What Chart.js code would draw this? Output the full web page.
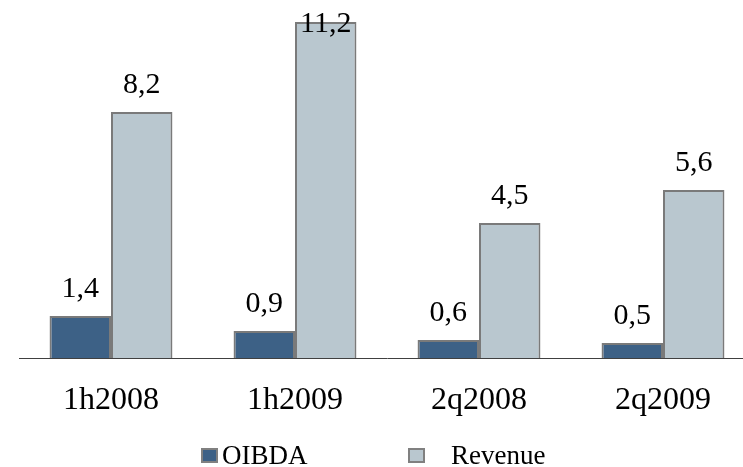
<!DOCTYPE html>
<html>
<head>
<meta charset="utf-8">
<script src="https://cdn.jsdelivr.net/npm/chart.js@4/dist/chart.umd.min.js"></script>
<style>
  html, body { margin: 0; background: #fff; overflow: hidden; }
  #wrap { position: relative; width: 743px; height: 467px; overflow: hidden; }
  #grafico { display: block; margin-top: -2px; }
  #legend { position: absolute; left: 0; top: 0; width: 743px; height: 467px; pointer-events: none;
            font-family: "Liberation Serif", "Times New Roman", serif; font-size: 27px; line-height: 27px; color: #000; }
  .box { position: absolute; top: 448px; width: 17px; height: 15px; box-sizing: border-box; border: 2px solid #808080; }
  .txt { position: absolute; top: 442px; white-space: pre; }
</style>
</head>
<body>
<div id="wrap">
  <canvas id="grafico" width="760" height="469"></canvas>
  <div id="legend"></div>
</div>
<script>
const periods = ['1h2008', '1h2009', '2q2008', '2q2009'];
const oibda = [1.4, 0.9, 0.6, 0.5];
const revenue = [8.2, 11.2, 4.5, 5.6];

const serif = '"Liberation Serif", "Times New Roman", serif';

// value labels above each bar, kept inside the plot at the top
const valueLabels = {
  id: 'valueLabels',
  afterDatasetsDraw(chart) {
    const ctx = chart.ctx;
    ctx.save();
    ctx.font = '30px ' + serif;
    ctx.fillStyle = '#000';
    ctx.textAlign = 'center';
    ctx.textBaseline = 'alphabetic';
    chart.data.datasets.forEach((ds, i) => {
      chart.getDatasetMeta(i).data.forEach((bar, j) => {
        const txt = ds.data[j].toFixed(1).replace('.', ',');
        const y = Math.max(bar.y - 19, 34);
        ctx.fillText(txt, bar.x, y);
      });
    });
    ctx.restore();
  }
};

const chart = new Chart(document.getElementById('grafico').getContext('2d'), {
  type: 'bar',
  data: {
    labels: periods,
    datasets: [{
      label: 'OIBDA',
      data: oibda,
      backgroundColor: '#3d6186',
      borderColor: '#7a7a7a',
      borderWidth: 2
    }, {
      label: 'Revenue',
      data: revenue,
      backgroundColor: '#b9c7cf',
      borderColor: '#7a7a7a',
      borderWidth: 2
    }]
  },
  options: {
    responsive: false,
    animation: false,
    layout: { padding: { top: 0, left: 19, right: 5, bottom: 0 } },
    datasets: {
      bar: { categoryPercentage: 0.668, barPercentage: 1 }
    },
    scales: {
      x: {
        grid: { display: false, drawTicks: false },
        border: { display: true, color: '#404040', width: 1 },
        ticks: { color: '#000', padding: 23, font: { family: serif, size: 32 } },
        afterFit: scale => { scale.height = 109; }
      },
      y: {
        display: false,
        min: 0,
        max: 12
      }
    },
    plugins: {
      legend: { display: false },
      tooltip: { enabled: false }
    }
  },
  plugins: [valueLabels]
});

// legend under the axis
const legendPos = [{ box: 201, text: 222 }, { box: 408, text: 451 }];
const legend = document.getElementById('legend');
chart.data.datasets.forEach((ds, i) => {
  const box = document.createElement('div');
  box.className = 'box';
  box.style.left = legendPos[i].box + 'px';
  box.style.background = ds.backgroundColor;
  legend.appendChild(box);
  const txt = document.createElement('span');
  txt.className = 'txt';
  txt.style.left = legendPos[i].text + 'px';
  txt.textContent = ds.label;
  legend.appendChild(txt);
});
</script>
</body>
</html>
